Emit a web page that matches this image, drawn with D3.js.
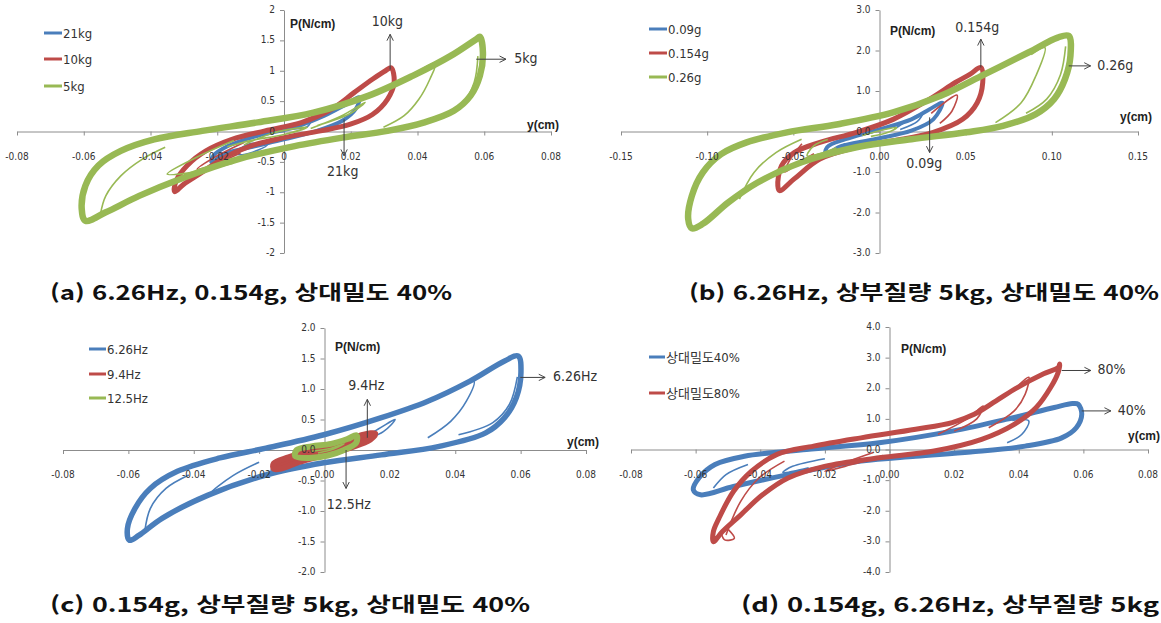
<!DOCTYPE html>
<html lang="ko">
<head>
<meta charset="UTF-8">
<title>Hysteresis loops P-y</title>
<style>
  body { margin: 0; background: #fff; }
  .axis path, .axis line { stroke: #8c8c8c; stroke-width: 1px; }
  .labels text { font-family: 'Liberation Sans Narrow', 'DejaVu Sans Condensed', 'Liberation Sans', sans-serif; font-size: 10px; fill: #333; }
  .legend text { font-family: 'Liberation Sans Narrow', 'DejaVu Sans Condensed', 'Noto Sans CJK KR', sans-serif; font-size: 13px; fill: #333; }
  .note text { font-family: 'Liberation Sans Narrow', 'DejaVu Sans Condensed', sans-serif; font-size: 14px; fill: #333; }
  .note line { stroke: #404040; stroke-width: 1px; }
  .axis-title { font-family: 'Liberation Sans', Arial, sans-serif; font-size: 12px; font-weight: bold; fill: #222; }
  .caption { font-family: 'Noto Sans CJK KR', sans-serif; font-size: 20px; font-weight: bold; fill: #111; }
</style>
</head>
<body>
<svg id="chart" width="1161" height="623"></svg>
<script src="https://d3js.org/d3.v7.min.js"></script>
<script>
// ---------- (a) 6.26Hz, 0.154g ----------
const aXTicks = [-0.08, -0.06, -0.04, -0.02, 0, 0.02, 0.04, 0.06, 0.08];
const aXTickLabels = ["-0.08", "-0.06", "-0.04", "-0.02", "0", "0.02", "0.04", "0.06", "0.08"];
const aYTicks = [-2, -1.5, -1, -0.5, 0, 0.5, 1, 1.5, 2];
const aYTickLabels = ["-2", "-1.5", "-1", "-0.5", "0", "0.5", "1", "1.5", "2"];
const aNames = ["21kg", "10kg", "5kg"];
const a21kgMain = [[0.0226,0.56],[0.0215,0.37],[0.0176,0.18],[0.0099,0.01],[0,-0.13],[-0.0101,-0.26],[-0.0179,-0.37],[-0.0217,-0.51],[-0.0212,-0.40],[-0.0168,-0.24],[-0.0079,-0.07],[0.0032,0.07],[0.0121,0.26],[0.0188,0.45]];
const a21kgThin = [
  [[-0.015,-0.35],[-0.010,-0.20],[-0.005,-0.22],[-0.012,-0.38],[-0.016,-0.36]],
  [[0.003,0.10],[0.008,0.18],[0.007,0.08],[0.002,0.04]]
];
const a10kgMain = [[0.0321,1.05],[0.033,0.81],[0.031,0.53],[0.0265,0.28],[0.0199,0.12],[0.011,0.01],[0,-0.10],[-0.0101,-0.24],[-0.0179,-0.43],[-0.0245,-0.67],[-0.0301,-0.87],[-0.0328,-0.99],[-0.0323,-0.81],[-0.029,-0.56],[-0.0234,-0.32],[-0.0156,-0.13],[-0.0057,0.01],[0.0054,0.15],[0.0143,0.37],[0.021,0.64],[0.0265,0.86],[0.0304,1.0]];
const a10kgThin = [
  [[-0.012,-0.18],[-0.020,-0.40],[-0.026,-0.62],[-0.021,-0.55],[-0.013,-0.35]]
];
const a5kgMain = [[0.0587,1.56],[0.0596,1.30],[0.0587,0.92],[0.0559,0.59],[0.0509,0.34],[0.0421,0.15],[0.031,0.01],[0.0176,-0.10],[0.0032,-0.24],[-0.0134,-0.45],[-0.0301,-0.76],[-0.0434,-1.06],[-0.0534,-1.33],[-0.0595,-1.47],[-0.0606,-1.28],[-0.0595,-0.89],[-0.0556,-0.56],[-0.0489,-0.32],[-0.0389,-0.13],[-0.0245,0.01],[-0.0079,0.15],[0.0088,0.31],[0.0254,0.59],[0.0387,0.92],[0.0498,1.24],[0.0576,1.52]];
const a5kgThin = [
  [[0.0387,0.93],[0.0454,1.13],[0.0437,0.86],[0.0404,0.53],[0.036,0.26],[0.0298,0.07]],
  [[0.0581,1.24],[0.057,0.81],[0.0537,0.48],[0.0476,0.28]],
  [[-0.055,-1.36],[-0.0534,-1.06],[-0.0489,-0.73],[-0.0423,-0.45],[-0.0356,-0.26]],
  [[-0.015,-0.15],[-0.026,-0.42],[-0.035,-0.70],[-0.026,-0.66],[-0.015,-0.52]],
  [[0.008,0.05],[0.017,0.25],[0.0243,0.48],[0.020,0.30],[0.010,0.10]],
  [[-0.017,-0.25],[-0.010,-0.15],[0,-0.05],[0.007,0.07],[-0.003,-0.02],[-0.012,-0.22]]
];
const aNotes = [
  { label: "10kg", from: [0.0318, 1.02], to: [0.0318, 1.60], text: [0.031, 1.80], anchor: "middle" },
  { label: "5kg", from: [0.0576, 1.19], to: [0.0665, 1.19], text: [0.069, 1.19], anchor: "start" },
  { label: "21kg", from: [0.018, 0.20], to: [0.018, -0.40], text: [0.0176, -0.67], anchor: "middle" }
];
const aCaption = "(a) 6.26Hz, 0.154g, 상대밀도 40%";

// ---------- (b) 6.26Hz, 상부질량 5kg ----------
const bXTicks = [-0.15, -0.10, -0.05, 0, 0.05, 0.10, 0.15];
const bXTickLabels = ["-0.15", "-0.10", "-0.05", "0.00", "0.05", "0.10", "0.15"];
const bYTicks = [-3, -2, -1, 0, 1, 2, 3];
const bYTickLabels = ["-3.0", "-2.0", "-1.0", "0.0", "1.0", "2.0", "3.0"];
const bNames = ["0.09g", "0.154g", "0.26g"];
const b009Main = [[0.0365,0.71],[0.0312,0.30],[0.0185,0.02],[-0.0028,-0.19],[-0.024,-0.39],[-0.0314,-0.60],[-0.0304,-0.39],[-0.0197,-0.19],[-0.0028,0.02],[0.0185,0.30],[0.0291,0.55]];
const b009Thin = [
  [[-0.020,-0.30],[-0.027,-0.50],[-0.022,-0.45],[-0.015,-0.28]],
  [[0.010,0.10],[0.025,0.45],[0.022,0.25],[0.012,0.05]]
];
const b0154Main = [[0.0588,1.58],[0.0599,1.21],[0.0567,0.71],[0.0482,0.30],[0.0312,-0.02],[0.0079,-0.23],[-0.0134,-0.39],[-0.0346,-0.68],[-0.0495,-1.17],[-0.058,-1.46],[-0.059,-1.34],[-0.0569,-0.85],[-0.0495,-0.52],[-0.0346,-0.27],[-0.0134,-0.02],[0.0079,0.30],[0.0291,0.80],[0.044,1.21],[0.0524,1.41]];
const b0154Thin = [
  [[-0.045,-0.30],[-0.052,-0.70],[-0.055,-1.0],[-0.048,-0.80],[-0.038,-0.55]],
  [[0.030,0.45],[0.045,0.90],[0.042,0.50],[0.035,0.20]]
];
const b026Main = [[0.1098,2.36],[0.1108,1.87],[0.1076,1.29],[0.1013,0.80],[0.0907,0.43],[0.0716,0.14],[0.0503,-0.02],[0.0185,-0.19],[-0.0134,-0.39],[-0.0452,-0.76],[-0.0707,-1.26],[-0.0877,-1.75],[-0.1025,-2.28],[-0.1089,-2.39],[-0.111,-2.16],[-0.1089,-1.59],[-0.1025,-1.01],[-0.0919,-0.56],[-0.0771,-0.27],[-0.0537,-0.02],[-0.024,0.18],[0.0079,0.47],[0.0355,0.88],[0.0609,1.41],[0.0864,1.95],[0.1034,2.32]];
const b026Thin = [
  [[0.088,1.90],[0.096,2.07],[0.0907,1.37],[0.0822,0.71],[0.0673,0.22]],
  [[0.108,2.10],[0.105,1.40],[0.097,0.80],[0.085,0.45]],
  [[-0.0813,-1.67],[-0.0728,-1.01],[-0.0601,-0.52],[-0.0452,-0.19]],
  [[-0.030,-0.20],[-0.038,-0.35],[-0.042,-0.60],[-0.035,-0.55],[-0.025,-0.40]],
  [[-0.010,-0.10],[0,0.02],[0.010,0.10],[0.005,-0.02],[-0.005,-0.12]]
];
const bNotes = [
  { label: "0.154g", from: [0.0588, 1.58], to: [0.0588, 2.28], text: [0.0567, 2.56], anchor: "middle" },
  { label: "0.26g", from: [0.1098, 1.62], to: [0.1225, 1.62], text: [0.1263, 1.62], anchor: "start" },
  { label: "0.09g", from: [0.0291, 0.35], to: [0.0291, -0.52], text: [0.026, -0.80], anchor: "middle" }
];
const bCaption = "(b) 6.26Hz, 상부질량 5kg, 상대밀도 40%";

// ---------- (c) 0.154g, 상부질량 5kg ----------
const cXTicks = [-0.08, -0.06, -0.04, -0.02, 0, 0.02, 0.04, 0.06, 0.08];
const cXTickLabels = ["-0.08", "-0.06", "-0.04", "-0.02", "0.00", "0.02", "0.04", "0.06", "0.08"];
const cYTicks = [-2, -1.5, -1, -0.5, 0, 0.5, 1, 1.5, 2];
const cYTickLabels = ["-2.0", "-1.5", "-1.0", "-0.5", "0.0", "0.5", "1.0", "1.5", "2.0"];
const cNames = ["6.26Hz", "9.4Hz", "12.5Hz"];
const c626Main = [[0.0593,1.54],[0.0601,1.27],[0.0587,0.86],[0.0551,0.53],[0.0493,0.28],[0.0351,0.06],[0.0174,-0.08],[-0.0002,-0.21],[-0.0179,-0.41],[-0.0356,-0.74],[-0.0497,-1.12],[-0.0568,-1.40],[-0.0597,-1.48],[-0.0603,-1.29],[-0.058,-0.96],[-0.0533,-0.63],[-0.045,-0.35],[-0.032,-0.13],[-0.0179,0.03],[-0.0002,0.25],[0.0174,0.53],[0.0316,0.80],[0.0445,1.13],[0.0551,1.46]];
const c626Thin = [
  [[0.038,0.95],[0.0457,1.13],[0.0434,0.80],[0.0386,0.47],[0.0316,0.20]],
  [[0.059,1.20],[0.0566,0.75],[0.0515,0.45],[0.041,0.25]],
  [[-0.055,-1.34],[-0.0533,-0.96],[-0.0485,-0.63],[-0.0415,-0.41]],
  [[-0.020,-0.20],[-0.028,-0.42],[-0.0348,-0.71],[-0.028,-0.60],[-0.020,-0.45]],
  [[0.005,0.05],[0.015,0.30],[0.0216,0.50],[0.018,0.30],[0.008,0.08]],
  [[-0.008,-0.15],[-0.0165,-0.33],[-0.010,-0.30]]
];
const c94Main = [[0.0155,0.27],[0.014,0.17],[0.008,0.04],[0,-0.08],[-0.008,-0.20],[-0.013,-0.30],[-0.0155,-0.31],[-0.0155,-0.22],[-0.011,-0.12],[-0.003,0.0],[0.005,0.12],[0.012,0.25]];
const c94Thin = [];
const c125Main = [[0.0098,0.24],[0.0097,0.12],[0.006,0.0],[0.001,-0.09],[-0.005,-0.13],[-0.009,-0.10],[-0.0085,0.0],[-0.004,0.06],[0.002,0.10],[0.007,0.18]];
const c125Thin = [
  [[-0.004,-0.02],[0.002,0.03],[0.006,0.10],[0.003,0.02],[-0.002,-0.05]]
];
const cNotes = [
  { label: "9.4Hz", from: [0.0131, 0.20], to: [0.0131, 0.83], text: [0.0128, 1.05], anchor: "middle" },
  { label: "12.5Hz", from: [0.0066, 0.0], to: [0.0066, -0.63], text: [0.0074, -0.90], anchor: "middle" },
  { label: "6.26Hz", from: [0.0599, 1.19], to: [0.0675, 1.19], text: [0.0699, 1.19], anchor: "start" }
];
const cCaption = "(c) 0.154g, 상부질량 5kg, 상대밀도 40%";

// ---------- (d) 0.154g, 6.26Hz, 상부질량 5kg ----------
const dXTicks = [-0.08, -0.06, -0.04, -0.02, 0, 0.02, 0.04, 0.06, 0.08];
const dXTickLabels = ["-0.08", "-0.06", "-0.04", "-0.02", "0.00", "0.02", "0.04", "0.06", "0.08"];
const dYTicks = [-4, -3, -2, -1, 0, 1, 2, 3, 4];
const dYTickLabels = ["-4.0", "-3.0", "-2.0", "-1.0", "0.0", "1.0", "2.0", "3.0", "4.0"];
const dNames = ["상대밀도40%", "상대밀도80%"];
const d40Main = [[0.0584,1.48],[0.0595,1.15],[0.0578,0.71],[0.0533,0.38],[0.042,0.11],[0.0251,-0.08],[0.0081,-0.22],[-0.0088,-0.38],[-0.0314,-0.82],[-0.0483,-1.21],[-0.0585,-1.48],[-0.0607,-1.32],[-0.059,-0.93],[-0.054,-0.49],[-0.0449,-0.22],[-0.0257,0.0],[-0.0032,0.22],[0.0194,0.60],[0.0364,0.99],[0.051,1.37],[0.0566,1.50]];
const d40Thin = [
  [[0.038,0.95],[0.0431,0.93],[0.0409,0.49],[0.0364,0.22]],
  [[-0.0545,-1.26],[-0.0506,-0.82],[-0.0438,-0.49]],
  [[-0.020,-0.30],[-0.030,-0.55],[-0.033,-0.75],[-0.025,-0.60]]
];
const d80Main = [[0.0527,2.79],[0.0522,2.52],[0.0499,2.03],[0.0454,1.37],[0.0386,0.82],[0.0285,0.33],[0.0138,-0.05],[-0.0032,-0.27],[-0.0201,-0.55],[-0.0314,-0.93],[-0.0393,-1.48],[-0.0461,-2.14],[-0.0517,-2.68],[-0.0545,-3.01],[-0.0545,-2.68],[-0.0528,-2.25],[-0.0483,-1.37],[-0.0427,-0.71],[-0.0348,-0.16],[-0.0235,0.11],[-0.0088,0.38],[0.0081,0.66],[0.0194,0.88],[0.0262,1.15],[0.033,1.59],[0.0397,2.03],[0.0477,2.47],[0.0522,2.68]];
const d80Thin = [
  [[0.040,2.10],[0.0431,2.36],[0.042,1.81],[0.0386,1.26],[0.0307,0.71]],
  [[-0.0506,-2.79],[-0.0461,-1.70],[-0.0404,-0.93],[-0.0325,-0.38]],
  [[0.015,0.50],[0.024,1.00],[0.029,1.42],[0.027,1.00],[0.020,0.60]],
  [[-0.005,-0.10],[-0.013,-0.40],[-0.020,-0.71],[-0.012,-0.50],[-0.002,-0.20]],
  [[-0.050,-2.60],[-0.048,-2.90],[-0.051,-2.95],[-0.052,-2.75]]
];
const dNotes = [
  { label: "80%", from: [0.0533, 2.58], to: [0.0623, 2.58], text: [0.0644, 2.58], anchor: "start" },
  { label: "40%", from: [0.0595, 1.26], to: [0.0685, 1.26], text: [0.0706, 1.26], anchor: "start" }
];
const dCaption = "(d) 0.154g, 6.26Hz, 상부질량 5kg";

// ---------- layout ----------
const BLUE = "#4a7ebb", RED = "#be4b48", GREEN = "#98b954";
const svg = d3.select("#chart");

svg.append("defs").append("marker")
    .attr("id", "arrow")
    .attr("viewBox", "0 0 10 10")
    .attr("refX", 9).attr("refY", 5)
    .attr("markerWidth", 8).attr("markerHeight", 8)
    .attr("orient", "auto")
  .append("path")
    .attr("d", "M1,1 L9,5 L1,9")
    .attr("fill", "none")
    .attr("stroke", "#404040")
    .attr("stroke-width", 1.2);

const panels = [
  { xDom: [-0.08, 0.08], xRange: [17, 551], yDom: [-2, 2], yRange: [253, 10],
    xTicks: aXTicks, xLabels: aXTickLabels, yTicks: aYTicks, yLabels: aYTickLabels,
    series: [
      { name: aNames[0], main: a21kgMain, thin: a21kgThin, color: BLUE, w: 4 },
      { name: aNames[1], main: a10kgMain, thin: a10kgThin, color: RED, w: 5 },
      { name: aNames[2], main: a5kgMain, thin: a5kgThin, color: GREEN, w: 6.5 }
    ],
    legend: { x1: 44, x2: 62, ys: [33, 59, 86] },
    pTitle: [290, 25], yTitle: [527, 126],
    notes: aNotes, caption: aCaption, cap: [50, 300, 402] },
  { xDom: [-0.15, 0.15], xRange: [621, 1138], yDom: [-3, 3], yRange: [253, 10],
    xTicks: bXTicks, xLabels: bXTickLabels, yTicks: bYTicks, yLabels: bYTickLabels,
    series: [
      { name: bNames[0], main: b009Main, thin: b009Thin, color: BLUE, w: 4 },
      { name: bNames[1], main: b0154Main, thin: b0154Thin, color: RED, w: 5 },
      { name: bNames[2], main: b026Main, thin: b026Thin, color: GREEN, w: 6.5 }
    ],
    legend: { x1: 649, x2: 667, ys: [29, 53, 77] },
    pTitle: [890, 32], yTitle: [1120, 118],
    notes: bNotes, caption: bCaption, cap: [689, 300, 470] },
  { xDom: [-0.08, 0.08], xRange: [63, 586], yDom: [-2, 2], yRange: [572, 328],
    xTicks: cXTicks, xLabels: cXTickLabels, yTicks: cYTicks, yLabels: cYTickLabels,
    series: [
      { name: cNames[0], main: c626Main, thin: c626Thin, color: BLUE, w: 5.5 },
      { name: cNames[1], main: c94Main, thin: c94Thin, color: RED, w: 6, fill: true },
      { name: cNames[2], main: c125Main, thin: c125Thin, color: GREEN, w: 6 }
    ],
    legend: { x1: 89, x2: 106, ys: [349, 374, 398] },
    pTitle: [335, 348], yTitle: [567, 443],
    notes: cNotes, caption: cCaption, cap: [50, 612, 480] },
  { xDom: [-0.08, 0.08], xRange: [631, 1148], yDom: [-4, 4], yRange: [572, 327],
    xTicks: dXTicks, xLabels: dXTickLabels, yTicks: dYTicks, yLabels: dYTickLabels,
    series: [
      { name: dNames[0], main: d40Main, thin: d40Thin, color: BLUE, w: 5 },
      { name: dNames[1], main: d80Main, thin: d80Thin, color: RED, w: 5 }
    ],
    legend: { x1: 649, x2: 665, ys: [357, 393] },
    pTitle: [901, 350], yTitle: [1128, 437],
    notes: dNotes, caption: dCaption, cap: [741, 612, 418] }
];

panels.forEach(p => {
  const x = d3.scaleLinear().domain(p.xDom).range(p.xRange);
  const y = d3.scaleLinear().domain(p.yDom).range(p.yRange);
  const g = svg.append("g");

  // axis lines (behind the loops)
  const xAxis = d3.axisBottom(x).tickValues(p.xTicks).tickSize(4).tickSizeOuter(0).tickFormat(() => "");
  const yAxis = d3.axisLeft(y).tickValues(p.yTicks).tickSize(4).tickSizeOuter(0).tickFormat(() => "");
  g.append("g").attr("class", "axis").attr("transform", `translate(0,${y(0)})`).call(xAxis);
  g.append("g").attr("class", "axis").attr("transform", `translate(${x(0)},0)`).call(yAxis);

  // loops
  const closedLine = d3.line().x(d => x(d[0])).y(d => y(d[1])).curve(d3.curveCatmullRomClosed.alpha(0.5));
  const openLine = d3.line().x(d => x(d[0])).y(d => y(d[1])).curve(d3.curveCatmullRom.alpha(0.5));
  p.series.forEach(s => {
    const sg = g.append("g");
    sg.selectAll(".thin").data(s.thin).enter().append("path")
      .attr("d", openLine)
      .attr("fill", "none")
      .attr("stroke", s.color)
      .attr("stroke-width", 1.6)
      .attr("stroke-linejoin", "round");
    sg.append("path")
      .datum(s.main)
      .attr("d", closedLine)
      .attr("fill", s.fill ? s.color : "none")
      .attr("stroke", s.color)
      .attr("stroke-width", s.w)
      .attr("stroke-linejoin", "round");
  });

  // tick labels (on top)
  const lab = g.append("g").attr("class", "labels");
  lab.selectAll(".xl").data(p.xTicks).enter().append("text")
    .attr("x", d => x(d))
    .attr("y", y(0) + 25)
    .attr("text-anchor", "middle")
    .attr("dominant-baseline", "middle")
    .text((d, i) => p.xLabels[i]);
  lab.selectAll(".yl").data(p.yTicks).enter().append("text")
    .attr("x", x(0) - 9)
    .attr("y", d => y(d))
    .attr("text-anchor", "end")
    .attr("dominant-baseline", "middle")
    .text((d, i) => p.yLabels[i]);

  // axis titles
  g.append("text").attr("class", "axis-title")
    .attr("x", p.pTitle[0]).attr("y", p.pTitle[1])
    .attr("dominant-baseline", "middle").text("P(N/cm)");
  g.append("text").attr("class", "axis-title")
    .attr("x", p.yTitle[0]).attr("y", p.yTitle[1])
    .attr("dominant-baseline", "middle").text("y(cm)");

  // legend
  const lg = g.append("g").attr("class", "legend");
  p.series.forEach((s, i) => {
    lg.append("line")
      .attr("x1", p.legend.x1).attr("x2", p.legend.x2)
      .attr("y1", p.legend.ys[i]).attr("y2", p.legend.ys[i])
      .attr("stroke", s.color).attr("stroke-width", 3);
    lg.append("text")
      .attr("x", p.legend.x2 + 1).attr("y", p.legend.ys[i] + 1)
      .attr("dominant-baseline", "middle")
      .text(s.name);
  });

  // annotation arrows
  const ng = g.append("g").attr("class", "note");
  p.notes.forEach(n => {
    ng.append("line")
      .attr("x1", x(n.from[0])).attr("y1", y(n.from[1]))
      .attr("x2", x(n.to[0])).attr("y2", y(n.to[1]))
      .attr("marker-end", "url(#arrow)");
    ng.append("text")
      .attr("x", x(n.text[0])).attr("y", y(n.text[1]))
      .attr("text-anchor", n.anchor)
      .attr("dominant-baseline", "middle")
      .text(n.label);
  });

  // caption
  svg.append("text").attr("class", "caption")
    .attr("x", p.cap[0]).attr("y", p.cap[1])
    .attr("textLength", p.cap[2])
    .attr("lengthAdjust", "spacingAndGlyphs")
    .text(p.caption);
});
</script>
</body>
</html>
